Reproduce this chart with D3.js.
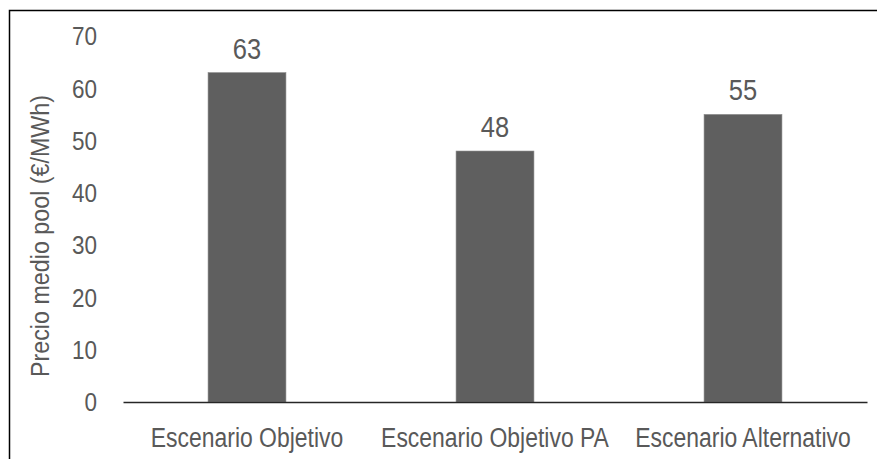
<!DOCTYPE html>
<html>
<head>
<meta charset="utf-8">
<script src="https://cdn.jsdelivr.net/npm/d3@7"></script>
<style>
  body { margin: 0; background: #fff; }
  svg text { font-family: "Liberation Sans", Arial, sans-serif; fill: #595959; }
</style>
</head>
<body>
<script>
const categories = ["Escenario Objetivo", "Escenario Objetivo PA", "Escenario Alternativo"]; //Bar names.
const values = [63, 48, 55]; //Average pool price per scenario.
const yTicks = [0, 10, 20, 30, 40, 50, 60, 70]; //Y-axis ticks.
const yLabel = "Precio medio pool (€/MWh)";

const svgWidth = 877;
const svgHeight = 459;
const plotLeft = 123, plotRight = 867, plotTop = 36, plotBottom = 402;
const narrow = 0.83; //Horizontal squeeze to mimic a narrow font.

let svg = d3.select("body").append("svg")
  .attr("width", svgWidth)
  .attr("height", svgHeight);

//Outer frame (only top and left edges are visible in the picture).
svg.append("rect")
  .attr("x", 9.5).attr("y", 10.5)
  .attr("width", 900).attr("height", 500)
  .attr("fill", "none")
  .attr("stroke", "#000")
  .attr("stroke-width", 1.5);

let xScale = d3.scaleBand()
  .domain(categories)
  .range([plotLeft, plotRight])
  .paddingInner(0.686)
  .paddingOuter(0.343);

let yScale = d3.scaleLinear()
  .domain([0, 70])
  .range([plotBottom, plotTop]);

//Y-axis labels only, no line.
let yAxis = d3.axisLeft(yScale).tickValues(yTicks).tickSize(0).tickPadding(0);
let gy = svg.append("g")
  .attr("transform", "translate(97,0)")
  .call(yAxis);
gy.select(".domain").remove();
gy.selectAll("text")
  .style("font-size", "25px")
  .attr("dy", "0.35em")
  .attr("transform", "scale(0.9,1)");

svg.append("text")
  .attr("transform", "rotate(-90) scale(" + narrow + ",1)")
  .attr("x", -236 / narrow)
  .attr("y", 49)
  .attr("text-anchor", "middle")
  .style("font-size", "26px")
  .attr("textLength", 282 / narrow)
  .attr("lengthAdjust", "spacingAndGlyphs")
  .text(yLabel);

svg.selectAll("rect.bar")
  .data(values)
  .enter()
  .append("rect")
  .attr("class", "bar")
  .attr("x", (d, i) => xScale(categories[i]))
  .attr("y", d => yScale(d))
  .attr("width", xScale.bandwidth())
  .attr("height", d => yScale(0) - yScale(d))
  .attr("fill", "#5f5f5f")
  .attr("stroke", "#8a8a8a")
  .attr("stroke-width", 0.6);

svg.selectAll("text.value")
  .data(values)
  .enter()
  .append("text")
  .attr("class", "value")
  .attr("transform", (d, i) => "translate(" + (xScale(categories[i]) + xScale.bandwidth() / 2) + "," + (yScale(d) - 14) + ") scale(0.85,1)")
  .attr("text-anchor", "middle")
  .style("font-size", "30px")
  .text(d => d);

//X-axis: line plus category names.
let xAxis = d3.axisBottom(xScale).tickSize(0).tickPadding(0);
let gx = svg.append("g")
  .attr("transform", "translate(0," + plotBottom + ")")
  .call(xAxis);
gx.select(".domain")
  .attr("stroke", "#262626")
  .attr("stroke-width", 1.5);
gx.selectAll("text")
  .style("font-size", "27px")
  .attr("y", 45)
  .attr("dy", 0)
  .attr("transform", "scale(0.85,1)");
</script>
</body>
</html>
